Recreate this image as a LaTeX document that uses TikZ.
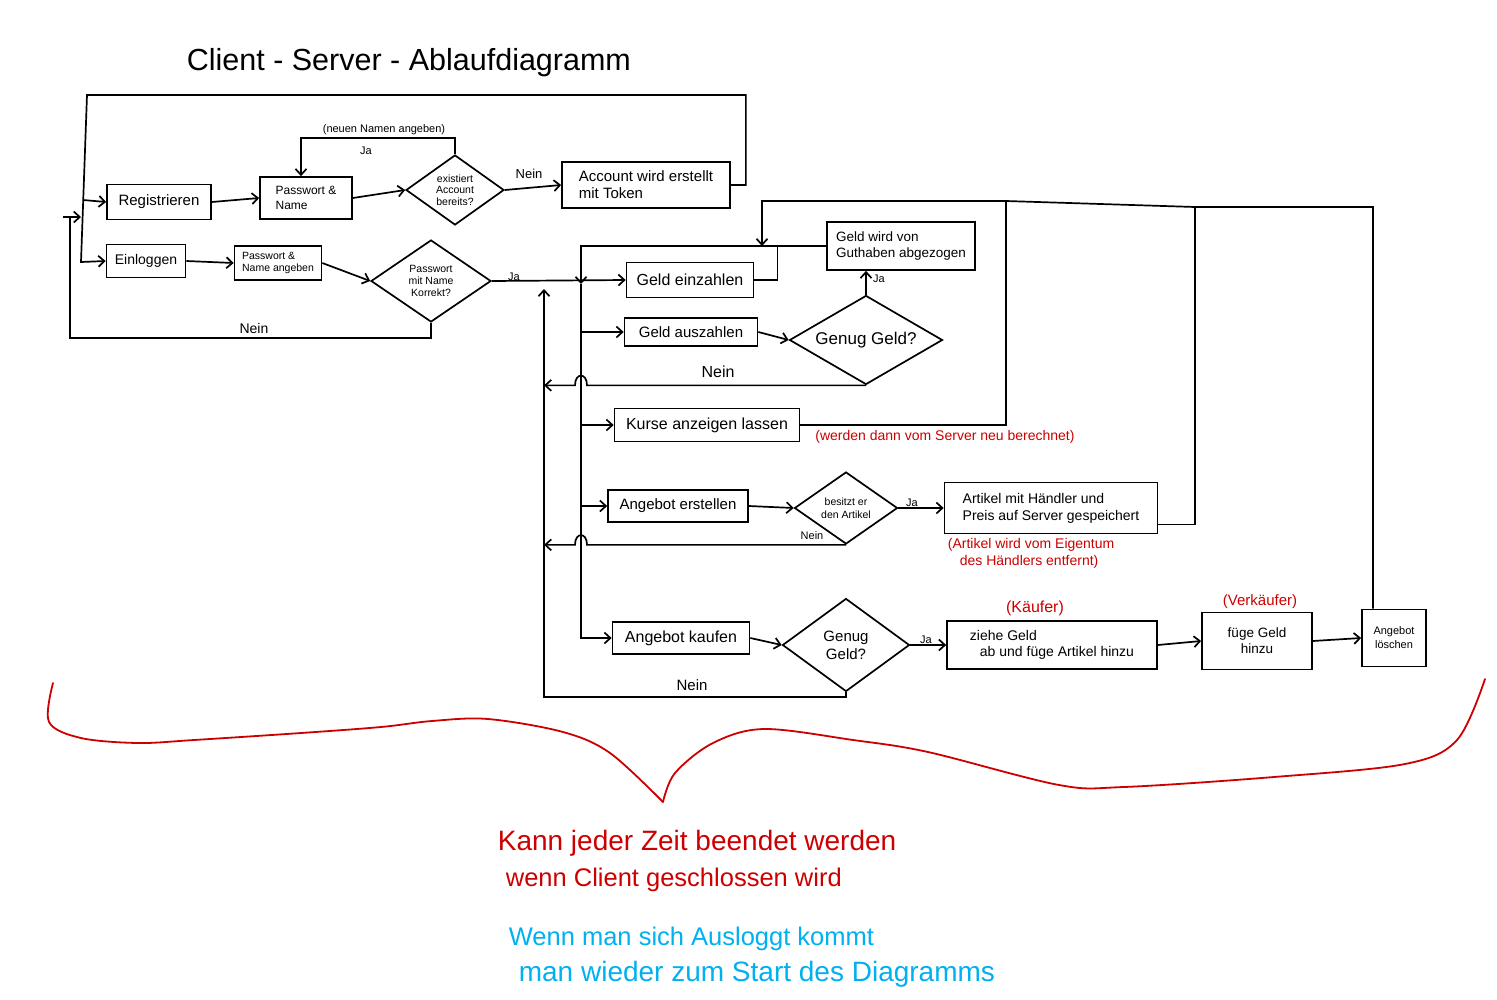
\documentclass[tikz,border=0pt]{standalone}
\usepackage{fontspec}
\setmainfont{Liberation Sans}
\usetikzlibrary{shapes.geometric,arrows.meta,calc}
\definecolor{nred}{HTML}{CC0000}
\definecolor{nblue}{HTML}{00B0F0}
\newcommand{\fsz}[2]{\fontsize{#1}{#2}\selectfont}
\begin{document}
\begin{tikzpicture}[x=1pt,y=-1pt, line width=1.7pt,
  box/.style={draw, rectangle, inner sep=3pt, align=center},
  dia/.style={draw, diamond, inner sep=0pt},
  dtext/.style={inner sep=0pt, align=center},
  arr/.style={-{Straight Barb[length=6pt,width=11pt]}},
  lbl/.style={inner sep=1pt},
  note/.style={text=nred, inner sep=1pt},
  redtxt/.style={text=nred, inner sep=0pt},
  bluetxt/.style={text=nblue, inner sep=0pt}]
\fill[white] (0,0) rectangle (1497,999);
\useasboundingbox (0,0) rectangle (1497,999);

% title
\node[anchor=base west, inner sep=0pt, font=\fsz{30.5}{36}] (title) at (186,70) {Client - Server - Ablaufdiagramm};

% boxes
\node[box, minimum width=104, minimum height=35, font=\fsz{15}{18}] (reg) at (159,202) {Registrieren};
\node[box, minimum width=92, minimum height=42, align=left, font=\fsz{12}{15}] (pw1) at (306,198) {Passwort \&\\Name};
\node[dia, minimum width=98, minimum height=70] (d1) at (455,190) {};
\node[dtext, font=\fsz{10.5}{11.5}] (d1t) at (d1) {existiert\\Account\\bereits?};
\node[box, minimum width=168, minimum height=46, align=left, font=\fsz{15}{17}] (acc) at (646,185) {Account wird erstellt\\mit Token};
\node[box, minimum width=79, minimum height=33, font=\fsz{14}{16}] (ein) at (146,261) {Einloggen};
\node[box, minimum width=87, minimum height=34, align=left, font=\fsz{10.5}{12.5}] (pw2) at (278,263) {Passwort \&\\Name angeben};
\node[dia, minimum width=120, minimum height=82] (d2) at (431,281) {};
\node[dtext, font=\fsz{10.5}{12}] (d2t) at (d2) {Passwort\\mit Name\\Korrekt?};

\node[box, minimum width=127, minimum height=35, font=\fsz{16}{18}] (einz) at (690,280) {Geld einzahlen};
\node[box, minimum width=148, minimum height=48, align=left, font=\fsz{13.5}{16}] (guth) at (901,246) {Geld wird von\\Guthaben abgezogen};
\node[box, minimum width=133, minimum height=28, font=\fsz{15}{17}] (ausz) at (691,332) {Geld auszahlen};
\node[dia, minimum width=153, minimum height=89] (d3) at (866,340) {};
\node[dtext, font=\fsz{17}{20}] (d3t) at (d3) {Genug Geld?};
\node[box, minimum width=185, minimum height=33, font=\fsz{16}{18}] (kurse) at (707,425) {Kurse anzeigen lassen};
\node[note, font=\fsz{14}{16}] (kn) at (945,437) {(werden dann vom Server neu berechnet)};
\node[box, minimum width=140, minimum height=32, font=\fsz{15}{17}] (erst) at (678,506) {Angebot erstellen};
\node[dia, minimum width=103, minimum height=72] (d4) at (846,508) {};
\node[dtext, font=\fsz{10.5}{12.5}] (d4t) at (d4) {besitzt er\\den Artikel};
\node[box, minimum width=213, minimum height=51, align=left, font=\fsz{14}{17}] (artk) at (1051,508) {Artikel mit Händler und\\Preis auf Server gespeichert};
\node[note, align=left, anchor=north west, font=\fsz{14}{17}] (an) at (946,536) {(Artikel wird vom Eigentum\\\hspace*{12pt}des Händlers entfernt)};
\node[box, minimum width=137, minimum height=32, font=\fsz{16}{18}] (kauf) at (681,638) {Angebot kaufen};
\node[dia, minimum width=127, minimum height=93] (d5) at (846,645) {};
\node[dtext, font=\fsz{15}{18}] (d5t) at (d5) {Genug\\Geld?};
\node[box, minimum width=210, minimum height=48, align=left, font=\fsz{14}{16}] (zieh) at (1052,645) {ziehe Geld\\\hspace*{10pt}ab und füge Artikel hinzu};
\node[note, font=\fsz{16}{18}] (kn2) at (1035,608) {(Käufer)};
\node[box, minimum width=110, minimum height=57, font=\fsz{13.5}{16}] (fuege) at (1257,641) {füge Geld\\hinzu};
\node[note, font=\fsz{15}{17}] (vn) at (1260,602) {(Verkäufer)};
\node[box, minimum width=64, minimum height=57, font=\fsz{11}{14}] (loesch) at (1394,638) {Angebot\\löschen};

% labels
\node[lbl, font=\fsz{11}{13}] (l1) at (384,130) {(neuen Namen angeben)};
\node[lbl, font=\fsz{11}{13}] (l2) at (366,151) {Ja};
\node[lbl, font=\fsz{13}{15}] (l3) at (529,174) {Nein};
\node[lbl, font=\fsz{11}{13}] (l4) at (514,277) {Ja};
\node[lbl, font=\fsz{14}{16}] (l5) at (254,328) {Nein};
\node[lbl, font=\fsz{11}{13}] (l6) at (879,279) {Ja};
\node[lbl, font=\fsz{16}{18}] (l7) at (718,372) {Nein};
\node[lbl, font=\fsz{11}{13}] (l8) at (912,503) {Ja};
\node[lbl, font=\fsz{11}{13}] (l9) at (812,536) {Nein};
\node[lbl, font=\fsz{11}{13}] (l10) at (926,640) {Ja};
\node[lbl, font=\fsz{15}{17}] (l11) at (692,685) {Nein};

% coordinates
\coordinate (topL) at (87,95);
\coordinate (lb) at (81,262);
\coordinate (lbR) at (83,200);
\coordinate (entS) at (63,217);
\coordinate (entE) at (81,217);
\coordinate (nL) at (70,217);
\coordinate (bus) at (581,284);
\coordinate (rvB) at (544,697);
\coordinate (rvTop) at (544,289);
\coordinate (tA) at (1373,207);
\coordinate (tB) at (1195,207);
\coordinate (tC) at (1006,201);
\coordinate (tD) at (762,201);

% connectors: login / register
\draw[arr] (acc.east) -- ++(15,0) |- (topL) -- (lb) -- (ein.west);
\draw[arr] (lbR) -- (reg.west);
\draw[arr] (entS) -- (entE);
\draw (d2.south) -- ++(0,15) -| (nL);
\draw[arr] (reg.east) -- (pw1.west);
\draw[arr] (pw1.east) -- (d1.west);
\draw[arr] (d1.north) -- ++(0,-16) -| ($(pw1.north)+(-5,0)$);
\draw[arr] (d1.east) -- (acc.west);
\draw[arr] (ein.east) -- (pw2.west);
\draw[arr] (pw2.east) -- (d2.west);
\draw[arr] (d2.east) -- (einz.west);

% main menu bus
\draw[arr] (guth.west) -- (guth.west -| bus) -- (bus);
\draw (einz.east) -- ++(23,0) |- (guth.west);
\draw[arr] (bus) |- (kauf.west);
\draw[arr] (ausz.west -| bus) -- (ausz.west);
\draw[arr] (kurse.west -| bus) -- (kurse.west);
\draw[arr] (erst.west -| bus) -- (erst.west);
\draw[arr] (ausz.east) -- (d3.west);
\draw[arr] (d3.north) -- (d3.north |- guth.south);
\draw[arr] (d3.south) -- ($(d3.south -| bus)+(6,0)$) .. controls +(0,-13) and +(0,-13) .. ($(d3.south -| bus)+(-6,0)$) -- (d3.south -| rvB);
\draw[arr] (erst.east) -- (d4.west);
\draw[arr] (d4.east) -- (artk.west);
\draw[arr] (d4.south) -- ($(d4.south -| bus)+(6,0)$) .. controls +(0,-13) and +(0,-13) .. ($(d4.south -| bus)+(-6,0)$) -- (d4.south -| rvB);
\draw[arr] (kauf.east) -- (d5.west);
\draw[arr] (d5.east) -- (zieh.west);
\draw[arr] (zieh.east) -- (fuege.west);
\draw[arr] (fuege.east) -- (loesch.west);
\draw[arr] (d5.south) |- (rvB) -- (rvTop);

% return loops at the top right
\draw[arr] (tA |- loesch.north) -- (tA) -- (tB) -- (tC) -- (tD) -- (tD |- guth.west);
\draw ($(artk.south east)+(0,-10)$) -| (tB);
\draw (kurse.east) -| (tC);

% red brace
\draw[nred, line width=1.8pt, line cap=round, line join=round] plot[smooth, tension=0.55] coordinates {(53,683) (49,722) (81,738) (138,743) (194,740) (301,733) (381,727) (432,721) (488,719) (563,732) (610,753) (663,802)};
\draw[nred, line width=1.8pt, line cap=round, line join=round] plot[smooth, tension=0.55] coordinates {(663,802) (675,773) (713,743) (764,729) (853,740) (928,752) (1059,785) (1124,787) (1274,777) (1405,764) (1457,740) (1485,679)};

% bottom notes
\node[redtxt, anchor=base west, font=\fsz{28}{32}] (r1) at (497,850) {Kann jeder Zeit beendet werden};
\node[redtxt, anchor=base west, font=\fsz{25.5}{30}] (r2) at (505,886) {wenn Client geschlossen wird};
\node[bluetxt, anchor=base west, font=\fsz{25.5}{30}] (b1) at (508,945) {Wenn man sich Ausloggt kommt};
\node[bluetxt, anchor=base west, font=\fsz{28}{32}] (b2) at (518,981) {man wieder zum Start des Diagramms};
\end{tikzpicture}
\end{document}
